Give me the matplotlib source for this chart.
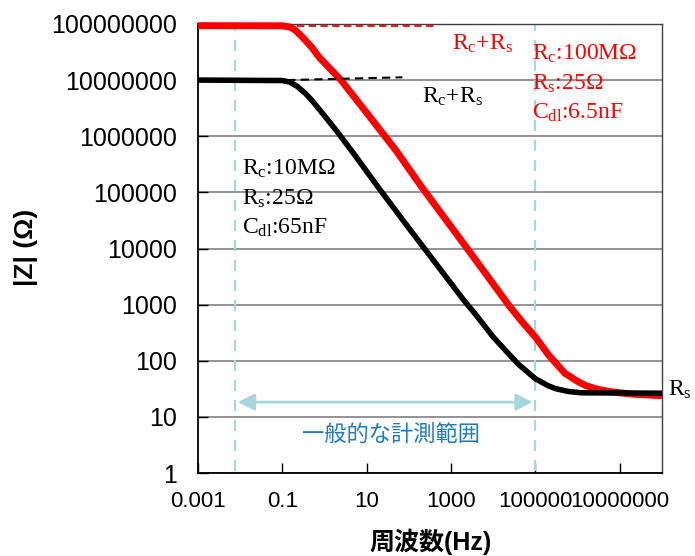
import numpy as np
import matplotlib
matplotlib.use("Agg")
import matplotlib.pyplot as plt

plt.rcParams['font.family'] = ['Liberation Sans', 'Noto Sans CJK JP', 'DejaVu Sans']
plt.rcParams['mathtext.fontset'] = 'custom'
plt.rcParams['mathtext.rm'] = 'Liberation Serif'
plt.rcParams['mathtext.it'] = 'Liberation Serif:italic'

# |Z| (Hz, ohm)
black_f = [0.001, 0.1, 0.15, 0.22, 0.35, 0.52, 1, 2, 5, 20, 100, 300, 2000, 4000, 10000,
           20000, 40000, 100000, 200000, 300000, 600000, 1.2e6, 1e8]
black_z = [1e7, 9.8e6, 9.2e6, 7.8e6, 5.8e6, 4.2e6, 2.3e6, 1.2e6, 4.8e5, 1.15e5, 2.3e4, 7.8e3,
           1.2e3, 640, 265, 150, 86, 48, 36, 32, 28.5, 27, 26.5]

red_f = [0.001, 0.1, 0.15, 0.2, 0.3, 0.5, 0.76, 1.2, 2.5, 10, 50, 200, 2300, 24000, 50000,
         100000, 200000, 300000, 500000, 1e6, 1.6e6, 3e6, 6.5e6, 2e7, 1e8]
red_z = [9.3e7, 9.25e7, 8.8e7, 7.8e7, 5.8e7, 3.8e7, 2.5e7, 1.75e7, 9.8e6, 2.6e6, 5.5e5, 1.25e5,
         1.05e4, 950, 480, 265, 130, 92, 60, 43, 36, 31, 28, 25.5, 24]

x_ticks = [0.001, 0.1, 10, 1000, 100000, 10000000]
x_labels = ['0.001', '0.1', '10', '1000', '100000', '10000000']
y_ticks = [1, 10, 100, 1000, 10000, 100000, 1000000, 10000000, 100000000]
y_labels = ['1', '10', '100', '1000', '10000', '100000', '1000000', '10000000', '100000000']

range_lo, range_hi = 0.0075, 1e5

fig = plt.figure(figsize=(6.95, 5.56), dpi=100)
ax = fig.add_axes([0.285, 0.149, 0.6675, 0.808])
ax.set_xscale('log')
ax.set_yscale('log')
ax.set_xlim(1e-3, 1e8)
ax.set_ylim(1, 1e8)

ax.yaxis.grid(True, color='#808080', lw=1.2)
ax.set_axisbelow(True)

light = '#a9d6dc'
for xv in (range_lo, range_hi):
    ax.plot([xv, xv], [1.1, 1e8], ls=(0, (5, 4)), color=light, lw=1.6)
ax.annotate('', xy=(range_lo, 18.4), xytext=(range_hi, 18.4),
            arrowprops=dict(arrowstyle='<|-|>', color=light, lw=2, mutation_scale=25))
ax.text(38, 5.0, '一般的な計測範囲', color='#1c7bc4', fontsize=16,
        ha='center', va='center', family=['Noto Sans CJK JP'])

ax.plot(red_f, red_z, color='#ff0000', lw=5.0, solid_capstyle='butt',
        solid_joinstyle='round', clip_on=False, zorder=3)
ax.plot(black_f, black_z, color='black', lw=4.0, solid_capstyle='butt',
        solid_joinstyle='round', zorder=4)

ax.plot([0.22, 400], [9.0e7, 9.0e7], color='#ff0000', lw=1.3, ls=(0, (4, 2.5)), zorder=5)
ax.plot([0.13, 70], [1.0e7, 1.12e7], color='black', lw=1.5, ls=(0, (4, 2.5)), zorder=5)

serif = dict(family='Liberation Serif', fontsize=17)
ax.text(1070, 4.5e7, r'R$_\mathrm{c}$+R$_\mathrm{s}$', color='#ff0000', ha='left', va='center', **serif)
ax.text(200, 5.0e6, r'R$_\mathrm{c}$+R$_\mathrm{s}$', color='black', ha='left', va='center', **serif)

red_notes = [r'R$_\mathrm{c}$:100MΩ', r'R$_\mathrm{s}$:25Ω', r'C$_\mathrm{dl}$:6.5nF']
for txt, yv in zip(red_notes, [2.9e7, 8.5e6, 2.6e6]):
    ax.text(8.5e4, yv, txt, color='#ff0000', ha='left', va='center', **serif)

black_notes = [r'R$_\mathrm{c}$:10MΩ', r'R$_\mathrm{s}$:25Ω', r'C$_\mathrm{dl}$:65nF']
for txt, yv in zip(black_notes, [2.6e5, 7.6e4, 2.3e4]):
    ax.text(0.011, yv, txt, color='black', ha='left', va='center', **serif)

ax.text(1.4e8, 30, r'R$_\mathrm{s}$', color='black', ha='left', va='center', **serif)

ax.set_xticks(x_ticks)
ax.set_xticklabels(x_labels, fontsize=16)
ax.set_yticks(y_ticks)
ax.set_yticklabels(y_labels, fontsize=18)
ax.minorticks_off()
ax.tick_params(axis='x', direction='in', length=7, width=1, pad=13, top=False)
ax.tick_params(axis='y', direction='in', length=7, width=1, pad=15, right=False)

for s in ('left', 'bottom'):
    ax.spines[s].set_color('black')
    ax.spines[s].set_linewidth(1.3)
for s in ('top', 'right'):
    ax.spines[s].set_color('#404040')
    ax.spines[s].set_linewidth(1.0)

fig.text(26 / 695, 1 - 247 / 556, '|Z| (Ω)', rotation=90, fontsize=19, fontweight='bold',
         ha='center', va='center')
fig.text(431 / 695, 1 - 542 / 556, '周波数(Hz)', fontsize=18, fontweight='bold',
         ha='center', va='center')

fig.savefig('out.png', dpi=100)
